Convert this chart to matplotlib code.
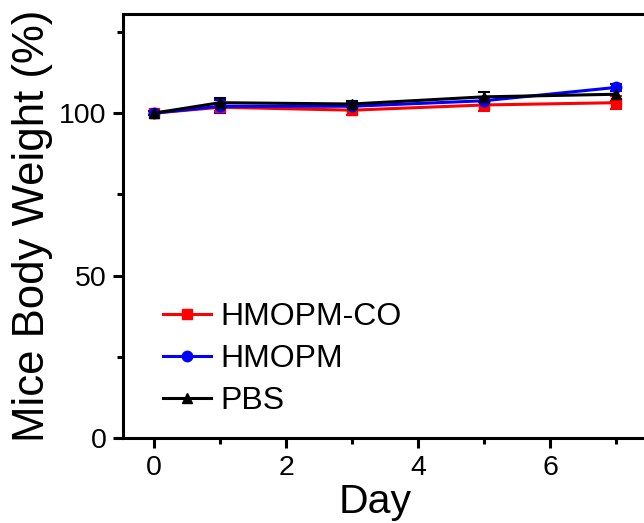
"""Mice body weight over the treatment course."""

import matplotlib

matplotlib.use("Agg")
import matplotlib.pyplot as plt  # noqa: E402
from matplotlib.ticker import MultipleLocator  # noqa: E402

plt.rcParams["font.family"] = ["Liberation Sans", "DejaVu Sans"]

days = [0, 1, 3, 5, 7]

hmopm_co = [100.0, 101.8, 100.9, 102.5, 103.2]
hmopm_co_err = [0.6, 1.2, 1.5, 2.0, 2.0]

hmopm = [100.0, 102.1, 102.1, 103.8, 107.9]
hmopm_err = [0.6, 2.0, 1.0, 1.2, 1.2]

pbs = [100.0, 103.2, 102.8, 105.0, 105.8]
pbs_err = [0.5, 1.5, 1.0, 1.5, 2.0]

series = [
    ("HMOPM-CO", hmopm_co, hmopm_co_err, "#ff0000", "s"),
    ("HMOPM", hmopm, hmopm_err, "#0000ff", "o"),
    ("PBS", pbs, pbs_err, "#000000", "^"),
]

fig = plt.figure(figsize=(6.44, 5.23), dpi=100)
ax = fig.add_axes([123 / 644, 85 / 523, (649 - 123) / 644, (438 - 14) / 523])

handles = []
for label, vals, err, color, marker in series:
    cont = ax.errorbar(days, vals, yerr=err, color=color, marker=marker, markersize=7.5,
                       linewidth=2.2, elinewidth=1.5, capsize=4, capthick=1.5, label=label)
    # legend shows only the line + marker, no error bar
    handles.append(cont[0])

ax.set_xlim(-0.47, 7.5)
ax.set_ylim(0, 130.5)
ax.xaxis.set_major_locator(MultipleLocator(2))
ax.xaxis.set_minor_locator(MultipleLocator(1))
ax.yaxis.set_major_locator(MultipleLocator(50))
ax.yaxis.set_minor_locator(MultipleLocator(25))

for side in ("top", "right", "left", "bottom"):
    ax.spines[side].set_linewidth(2.2)
ax.tick_params(which="major", direction="out", length=7, width=2.2, labelsize=20.5, pad=5)
ax.tick_params(which="minor", direction="out", length=4, width=2.2)

ax.set_xlabel("Day", fontsize=29.5)
ax.xaxis.set_label_coords(0.479, -0.105)
ax.set_ylabel("Mice Body Weight (%)", fontsize=31.5, labelpad=4)

ax.legend(handles=handles, labels=[s[0] for s in series], loc="lower left",
          bbox_to_anchor=(0.022, -0.017), frameon=False, fontsize=23,
          handlelength=1.5, handletextpad=0.3, labelspacing=0.38, borderaxespad=0.5)

fig.savefig("out.png", dpi=100)
plt.close(fig)
